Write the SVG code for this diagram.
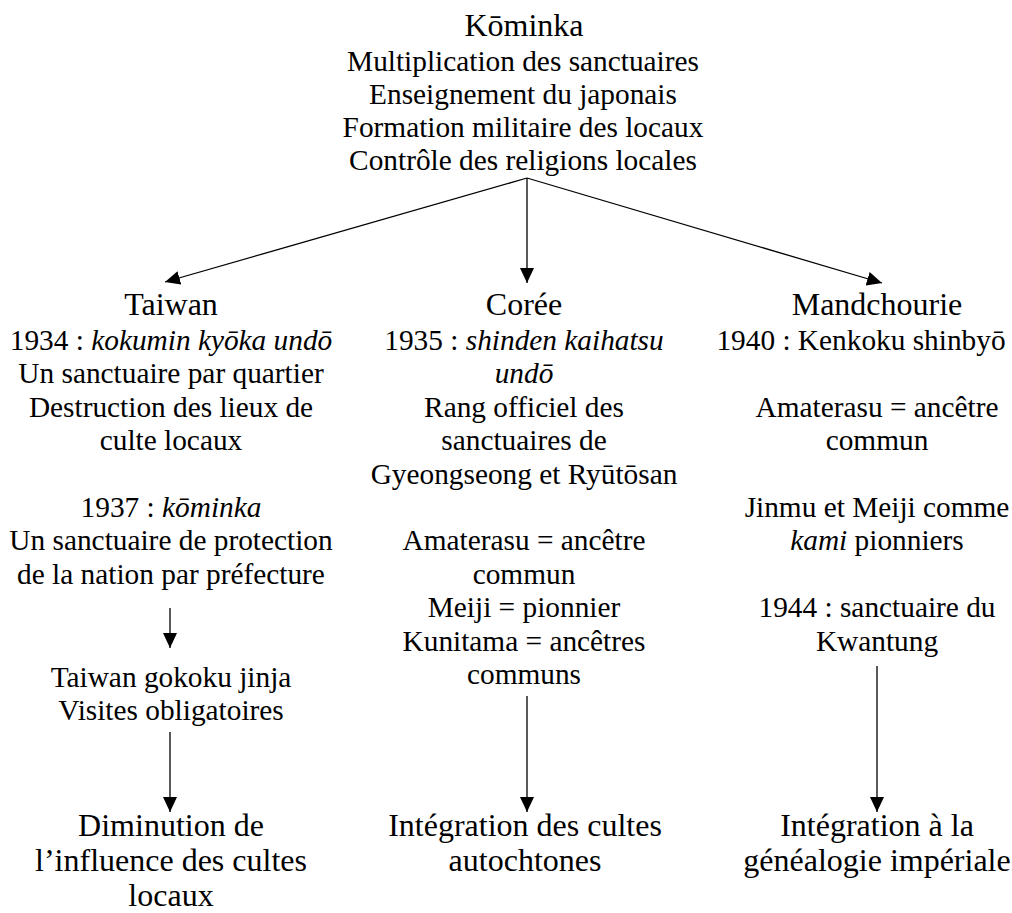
<svg xmlns="http://www.w3.org/2000/svg" width="1012" height="913" viewBox="0 0 1012 913" font-family="Liberation Serif, Tinos, Times New Roman, DejaVu Serif, serif">
<style>
text{fill:#000;text-anchor:middle}
.b{font-size:29.33px}
.h{font-size:32px}
.i{font-style:italic}
.c{stroke:#000;stroke-width:1.3;fill:none;marker-end:url(#ah)}
</style>
<defs>
<marker id="ah" markerUnits="userSpaceOnUse" markerWidth="15" markerHeight="14" refX="15" refY="7" orient="auto">
<path d="M0,0 L15,7 L0,14 z" fill="#000"/>
</marker>
</defs>
<rect width="1012" height="913" fill="#fff"/>
<g id="connectors">
<line class="c" x1="527" y1="178" x2="165" y2="282"/>
<line class="c" x1="527" y1="178" x2="527" y2="283"/>
<line class="c" x1="527" y1="178" x2="882" y2="283"/>
<line class="c" x1="170" y1="608" x2="170" y2="648"/>
<line class="c" x1="170" y1="732" x2="170" y2="812"/>
<line class="c" x1="527" y1="696" x2="527" y2="812"/>
<line class="c" x1="877" y1="666" x2="877" y2="812"/>
</g>
<g id="kominka">
<text class="h" x="524" y="36">Kōminka</text>
<text class="b" x="523" y="71">Multiplication des sanctuaires</text>
<text class="b" x="523" y="104">Enseignement du japonais</text>
<text class="b" x="523" y="137">Formation militaire des locaux</text>
<text class="b" x="523" y="170">Contrôle des religions locales</text>
</g>
<g id="taiwan">
<text class="h" x="171" y="315">Taiwan</text>
<text class="b" x="171" y="350">1934 : <tspan class="i">kokumin kyōka undō</tspan></text>
<text class="b" x="171" y="383.4">Un sanctuaire par quartier</text>
<text class="b" x="171" y="416.8">Destruction des lieux de</text>
<text class="b" x="171" y="450.2">culte locaux</text>
<text class="b" x="171" y="517">1937 : <tspan class="i">kōminka</tspan></text>
<text class="b" x="171" y="550.4">Un sanctuaire de protection</text>
<text class="b" x="171" y="583.8">de la nation par préfecture</text>
</g>
<g id="taiwan-gokoku">
<text class="b" x="171" y="687">Taiwan gokoku jinja</text>
<text class="b" x="171" y="720.4">Visites obligatoires</text>
</g>
<g id="taiwan-result">
<text class="h" x="171" y="836">Diminution de</text>
<text class="h" x="171" y="871">l’influence des cultes</text>
<text class="h" x="171" y="906">locaux</text>
</g>
<g id="coree">
<text class="h" x="524" y="315">Corée</text>
<text class="b" x="524" y="350">1935 : <tspan class="i">shinden kaihatsu</tspan></text>
<text class="b i" x="524" y="383.4">undō</text>
<text class="b" x="524" y="416.8">Rang officiel des</text>
<text class="b" x="524" y="450.2">sanctuaires de</text>
<text class="b" x="524" y="483.6">Gyeongseong et Ryūtōsan</text>
<text class="b" x="524" y="550.4">Amaterasu = ancêtre</text>
<text class="b" x="524" y="583.8">commun</text>
<text class="b" x="524" y="617.2">Meiji = pionnier</text>
<text class="b" x="524" y="650.6">Kunitama = ancêtres</text>
<text class="b" x="524" y="684">communs</text>
</g>
<g id="coree-result">
<text class="h" x="525" y="836">Intégration des cultes</text>
<text class="h" x="525" y="871">autochtones</text>
</g>
<g id="mandchourie">
<text class="h" x="877" y="315">Mandchourie</text>
<text class="b" x="861" y="350">1940 : Kenkoku shinbyō</text>
<text class="b" x="877" y="416.8">Amaterasu = ancêtre</text>
<text class="b" x="877" y="450.2">commun</text>
<text class="b" x="877" y="517">Jinmu et Meiji comme</text>
<text class="b" x="877" y="550.4"><tspan class="i">kami</tspan> pionniers</text>
<text class="b" x="877" y="617.2">1944 : sanctuaire du</text>
<text class="b" x="877" y="650.6">Kwantung</text>
</g>
<g id="mandchourie-result">
<text class="h" x="877" y="836">Intégration à la</text>
<text class="h" x="877" y="871">généalogie impériale</text>
</g>
</svg>
